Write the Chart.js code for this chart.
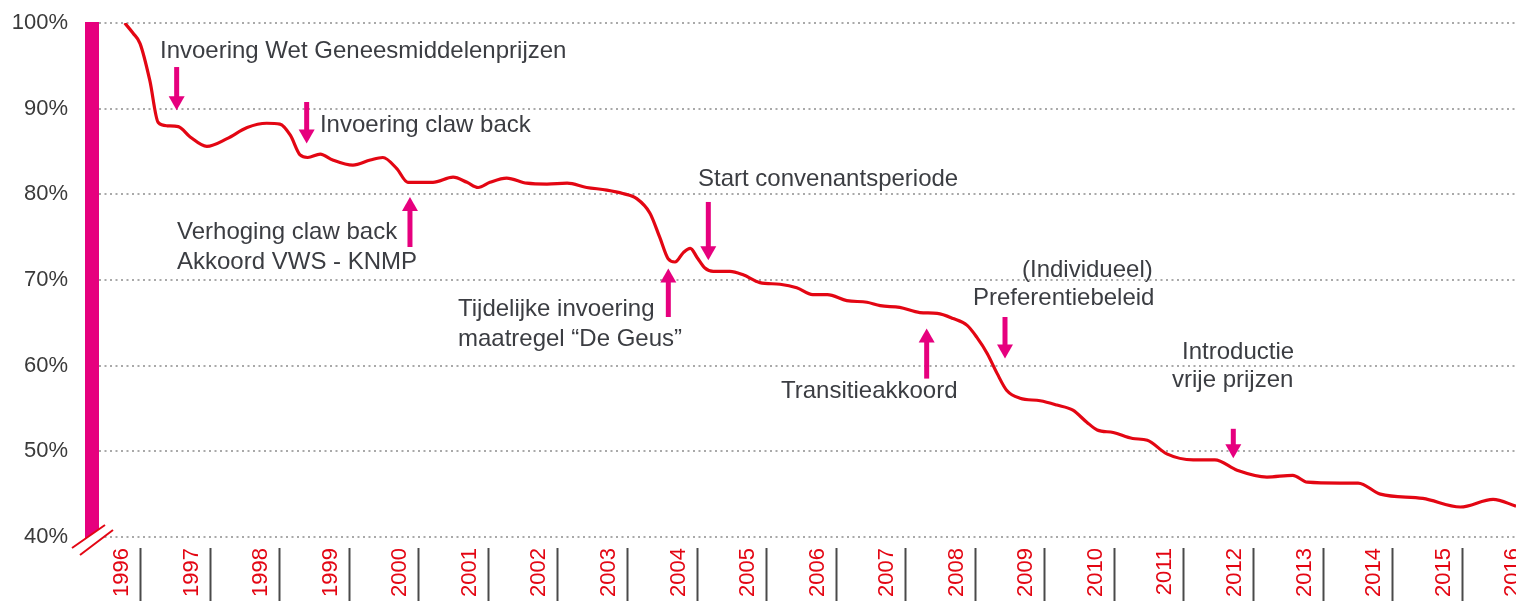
<!DOCTYPE html>
<html>
<head>
<meta charset="utf-8">
<script src="https://cdn.jsdelivr.net/npm/chart.js@4.4.1/dist/chart.umd.min.js"></script>
<style>
  html, body { margin: 0; padding: 0; background: #fff; overflow: hidden; }
  #wrap { width: 1516px; height: 601px; position: relative; }
</style>
</head>
<body>
<div id="wrap"><canvas id="chart"></canvas></div>
<script>
// position along the time axis (year, fractional) and price index (% of 1996)
const timePos = [1996.04, 1996.16, 1996.26, 1996.40, 1996.52, 1996.65, 1996.81, 1996.98, 1997.22, 1997.51, 1997.80,
  1998.08, 1998.27, 1998.42, 1998.56, 1998.67, 1998.85, 1999.03, 1999.32, 1999.57, 1999.75, 1999.95,
  2000.11, 2000.47, 2000.76, 2000.96, 2001.12, 2001.29, 2001.53, 2001.82, 2002.11, 2002.40, 2002.68, 2002.97,
  2003.20, 2003.40, 2003.59, 2003.73, 2003.85, 2003.95, 2004.07, 2004.17, 2004.27, 2004.38, 2004.50, 2004.74, 2004.93,
  2005.17, 2005.46, 2005.70, 2005.93, 2006.14, 2006.42, 2006.71, 2006.90, 2007.18, 2007.47, 2007.72, 2007.95,
  2008.15, 2008.29, 2008.44, 2008.58, 2008.72, 2008.91, 2009.20, 2009.44, 2009.67, 2009.87,
  2010.02, 2010.25, 2010.53, 2010.74, 2011.02, 2011.40, 2011.71, 2012.03, 2012.46, 2012.83,
  2013.04, 2013.51, 2013.77, 2014.09, 2014.70, 2015.24, 2015.71, 2016.04];
const priceIndex = [100, 98.8, 97.6, 93.3, 88.4, 88.0, 87.9, 86.7, 85.6, 86.5, 87.8,
  88.3, 88.2, 86.9, 84.6, 84.3, 84.7, 84.0, 83.4, 84.0, 84.3, 83.0,
  81.4, 81.4, 82.0, 81.4, 80.8, 81.4, 81.9, 81.3, 81.2, 81.3, 80.8, 80.5,
  80.1, 79.5, 77.8, 75.0, 72.5, 72.1, 73.2, 73.7, 72.6, 71.4, 71.0, 71.0, 70.6,
  69.7, 69.5, 69.1, 68.3, 68.3, 67.6, 67.4, 67.0, 66.8, 66.2, 66.1, 65.5,
  64.7, 63.3, 61.4, 59.1, 57.1, 56.2, 55.9, 55.4, 54.8, 53.4,
  52.5, 52.2, 51.5, 51.3, 49.7, 49.0, 49.0, 47.8, 47.0, 47.2,
  46.4, 46.3, 46.3, 45.0, 44.5, 43.5, 44.4, 43.6];

const yearLabels = [1996, 1997, 1998, 1999, 2000, 2001, 2002, 2003, 2004, 2005, 2006,
  2007, 2008, 2009, 2010, 2011, 2012, 2013, 2014, 2015, 2016];
const yTicks = [40, 50, 60, 70, 80, 90, 100];

// policy events: text anchored at (x, y) in chart values, arrow at x from -> to
const eventTexts = [
  { lines: ['Invoering Wet Geneesmiddelenprijzen'], x: 1996.546, y: 96.64 },
  { lines: ['Invoering claw back'], x: 1998.846, y: 88.06 },
  { lines: ['Verhoging claw back', 'Akkoord VWS - KNMP'], x: 1996.791, y: 75.57 },
  { lines: ['Start convenantsperiode'], x: 2004.281, y: 81.76 },
  { lines: ['Tijdelijke invoering', 'maatregel \u201cDe Geus\u201d'], x: 2000.830, y: 66.58 },
  { lines: ['(Individueel)'], x: 2008.938, y: 71.13 },
  { lines: ['Preferentiebeleid'], x: 2008.234, y: 67.86 },
  { lines: ['Transitieakkoord'], x: 2005.474, y: 57.01 },
  { lines: ['Introductie'], x: 2011.239, y: 61.56 },
  { lines: ['vrije prijzen'], x: 2011.095, y: 58.3 }
];
const eventArrows = [
  { x: 1996.786, from: 94.86, to: 89.81 },
  { x: 1998.655, from: 90.78, to: 85.92 },
  { x: 2000.140, from: 73.85, to: 79.69 },
  { x: 2004.429, from: 79.11, to: 72.30 },
  { x: 2003.854, from: 65.68, to: 71.33 },
  { x: 2008.694, from: 65.68, to: 60.83 },
  { x: 2007.568, from: 58.49, to: 64.33 },
  { x: 2011.976, from: 52.63, to: 49.19 }
];

const MAGENTA = '#e6007e';
const RED = '#e30613';
const TEXT = '#3b3d42';

const eventsPlugin = {
  id: 'events',
  afterDatasetsDraw(chart) {
    const { ctx, scales: { x, y } } = chart;
    ctx.save();
    ctx.fillStyle = TEXT;
    ctx.font = '24px "Liberation Sans", Arial, sans-serif';
    ctx.textAlign = 'left';
    ctx.textBaseline = 'middle';
    eventTexts.forEach(ev => {
      const px = x.getPixelForValue(ev.x);
      const py = y.getPixelForValue(ev.y);
      ev.lines.forEach((line, i) => ctx.fillText(line, px, py + i * 30));
    });
    ctx.strokeStyle = MAGENTA;
    ctx.fillStyle = MAGENTA;
    ctx.lineWidth = 5;
    eventArrows.forEach(a => {
      const px = x.getPixelForValue(a.x);
      const y0 = y.getPixelForValue(a.from);
      const y1 = y.getPixelForValue(a.to);
      const dir = y1 > y0 ? 1 : -1;
      const head = 14;
      ctx.beginPath();
      ctx.moveTo(px, y0);
      ctx.lineTo(px, y1 - dir * head * 0.6);
      ctx.stroke();
      ctx.beginPath();
      ctx.moveTo(px, y1);
      ctx.lineTo(px - 8, y1 - dir * head);
      ctx.lineTo(px + 8, y1 - dir * head);
      ctx.closePath();
      ctx.fill();
    });
    ctx.restore();
  }
};

// year separators below the axis and the axis break marks
const axisDecorPlugin = {
  id: 'axisDecor',
  afterDraw(chart) {
    const { ctx, chartArea, scales: { x } } = chart;
    ctx.save();
    // the axis border overshoots the top gridline, trim it
    ctx.fillStyle = '#fff';
    ctx.fillRect(chartArea.left - 9, chartArea.top - 10, 18, 9);
    ctx.strokeStyle = '#4a4a4a';
    ctx.lineWidth = 2;
    yearLabels.forEach(yr => {
      const px = Math.round(x.getPixelForValue(yr + 0.26)) + 0.5;
      ctx.beginPath();
      ctx.moveTo(px, chartArea.bottom + 11);
      ctx.lineTo(px, chart.height);
      ctx.stroke();
    });
    const l = chartArea.left, b = chartArea.bottom;
    ctx.fillStyle = '#fff';
    ctx.beginPath();
    ctx.moveTo(l - 20, b + 11);
    ctx.lineTo(l + 13, b - 12);
    ctx.lineTo(l + 21, b - 7);
    ctx.lineTo(l - 12, b + 18);
    ctx.closePath();
    ctx.fill();
    ctx.strokeStyle = RED;
    ctx.lineWidth = 2;
    ctx.beginPath();
    ctx.moveTo(l - 20, b + 11);
    ctx.lineTo(l + 13, b - 12);
    ctx.moveTo(l - 12, b + 18);
    ctx.lineTo(l + 21, b - 7);
    ctx.stroke();
    ctx.restore();
  }
};

new Chart(document.getElementById('chart'), {
  type: 'line',
  data: {
    datasets: [{
      data: timePos.map((t, i) => ({ x: t, y: priceIndex[i] })),
      borderColor: RED,
      borderWidth: 3.2,
      pointRadius: 0,
      cubicInterpolationMode: 'monotone',
      fill: false
    }]
  },
  options: {
    responsive: true,
    maintainAspectRatio: false,
    animation: false,
    layout: { padding: { top: 23, left: 0, right: 0, bottom: 0 } },
    plugins: { legend: { display: false }, tooltip: { enabled: false } },
    scales: {
      x: {
        type: 'linear',
        min: 1995.569,
        max: 2016.04,
        afterBuildTicks: s => { s.ticks = yearLabels.map(v => ({ value: v })); },
        afterFit: s => { s.height = 64; s.paddingLeft = 0; s.paddingRight = 0; },
        grid: { display: false },
        border: { display: false },
        ticks: {
          autoSkip: false,
          minRotation: 90,
          maxRotation: 90,
          padding: 3,
          color: RED,
          font: { family: '"Liberation Sans", Arial, sans-serif', size: 22 },
          callback: v => String(v)
        }
      },
      y: {
        min: 40,
        max: 100,
        afterBuildTicks: s => { s.ticks = yTicks.map(v => ({ value: v })); },
        afterFit: s => { s.width = 92; s.paddingTop = 0; s.paddingBottom = 0; },
        grid: { color: '#a9a9a9', lineWidth: 2, drawTicks: false },
        border: { color: MAGENTA, width: 14, dash: [2, 3.5] },
        ticks: {
          padding: 24,
          color: '#3a3a3a',
          font: { family: '"Liberation Sans", Arial, sans-serif', size: 22 },
          callback: v => v + '%'
        }
      }
    }
  },
  plugins: [eventsPlugin, axisDecorPlugin]
});
</script>
</body>
</html>
